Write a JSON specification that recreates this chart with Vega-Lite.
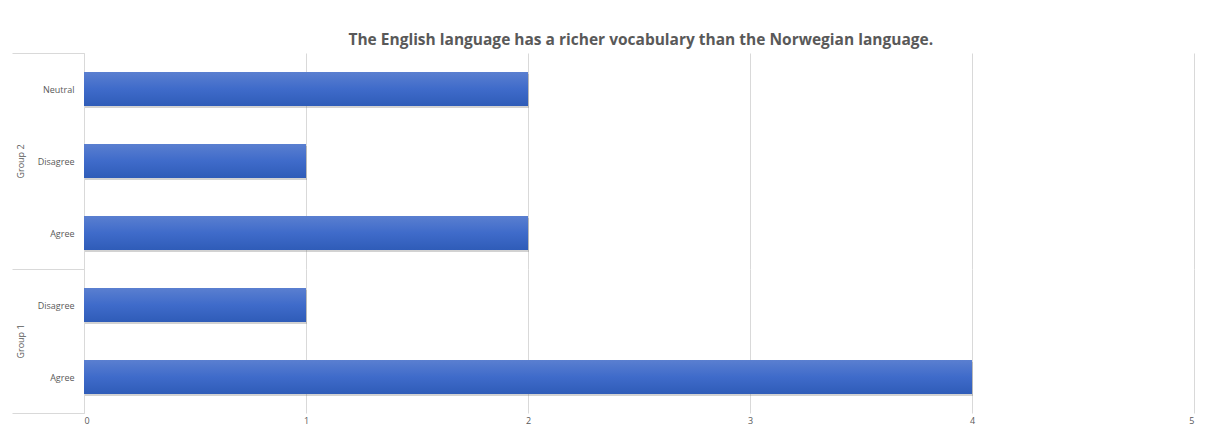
{
  "$schema": "https://vega.github.io/schema/vega-lite/v6.json",
  "padding": {"left": 11, "top": 32, "right": 5, "bottom": 5},
  "background": "white",
  "title": {
    "text": "The English language has a richer vocabulary than the Norwegian language.",
    "font": "Open Sans",
    "fontSize": 15.5,
    "fontWeight": "bold",
    "color": "#595959",
    "anchor": "middle",
    "offset": 1,
    "dx": 38
  },
  "data": {
    "values": [
      {"group": "Group 2", "response": "Neutral", "ord": 1, "count": 2},
      {"group": "Group 2", "response": "Disagree", "ord": 2, "count": 1},
      {"group": "Group 2", "response": "Agree", "ord": 3, "count": 2},
      {"group": "Group 1", "response": "Disagree", "ord": 4, "count": 1},
      {"group": "Group 1", "response": "Agree", "ord": 5, "count": 4}
    ]
  },
  "spacing": -4,
  "vconcat": [
    {
      "width": 1110,
      "height": 216,
      "transform": [{"filter": "datum.group == 'Group 2'"}],
      "encoding": {
        "x": {
          "field": "count",
          "type": "quantitative",
          "scale": {"domain": [0, 5]},
          "axis": {
            "title": null,
            "values": [0, 1, 2, 3, 4, 5],
            "labels": false,
            "ticks": false,
            "domain": false,
            "labelPadding": 0,
            "minExtent": 0,
            "maxExtent": 0,
            "gridColor": "#d9d9d9"
          }
        },
        "y": {
          "field": "response",
          "type": "nominal",
          "sort": {"field": "ord", "order": "ascending"},
          "scale": {"paddingInner": 0, "paddingOuter": 0},
          "axis": {
            "title": "Group 2",
            "titleFont": "Open Sans",
            "titleFontSize": 9,
            "titleFontWeight": "normal",
            "titleColor": "#595959",
            "titleAngle": -90,
            "titleBaseline": "middle",
            "titleAlign": "center",
            "titleX": -64,
            "titleY": 108,
            "labelFont": "Open Sans",
            "labelFontSize": 9,
            "labelColor": "#595959",
            "tickBand": "extent",
            "tickSize": 72,
            "tickColor": "#d9d9d9",
            "tickOpacity": {
              "condition": {"test": "datum.extra", "value": 1},
              "value": 0
            },
            "labelPadding": -62,
            "domainColor": "#d9d9d9"
          }
        }
      },
      "layer": [
        {
          "mark": {"type": "bar", "height": {"band": 0.47}, "color": "#7f7f7f", "opacity": 0.35, "yOffset": 2, "xOffset": 1}
        },
        {
          "mark": {
            "type": "bar",
            "height": {"band": 0.47},
            "color": {
              "gradient": "linear",
              "x1": 0, "y1": 0, "x2": 0, "y2": 1,
              "stops": [
                {"offset": 0, "color": "#5a7fd0"},
                {"offset": 0.5, "color": "#3f6bca"},
                {"offset": 1, "color": "#2f5cb8"}
              ]
            }
          }
        }
      ]
    },
    {
      "width": 1110,
      "height": 144,
      "transform": [{"filter": "datum.group == 'Group 1'"}],
      "encoding": {
        "x": {
          "field": "count",
          "type": "quantitative",
          "scale": {"domain": [0, 5]},
          "axis": {
            "title": null,
            "values": [0, 1, 2, 3, 4, 5],
            "format": "d",
            "labelFont": "Open Sans",
            "labelFontSize": 9,
            "labelColor": "#595959",
            "labelPadding": 3,
            "ticks": false,
            "domain": false,
            "gridColor": "#d9d9d9"
          }
        },
        "y": {
          "field": "response",
          "type": "nominal",
          "sort": {"field": "ord", "order": "ascending"},
          "scale": {"paddingInner": 0, "paddingOuter": 0},
          "axis": {
            "title": "Group 1",
            "titleFont": "Open Sans",
            "titleFontSize": 9,
            "titleFontWeight": "normal",
            "titleColor": "#595959",
            "titleAngle": -90,
            "titleBaseline": "middle",
            "titleAlign": "center",
            "titleX": -64,
            "titleY": 72,
            "labelFont": "Open Sans",
            "labelFontSize": 9,
            "labelColor": "#595959",
            "tickBand": "extent",
            "tickSize": 72,
            "tickColor": "#d9d9d9",
            "tickOpacity": {
              "condition": {"test": "datum.extra || datum.value == 'Agree'", "value": 1},
              "value": 0
            },
            "labelPadding": -62,
            "domainColor": "#d9d9d9"
          }
        }
      },
      "layer": [
        {
          "mark": {"type": "bar", "height": {"band": 0.47}, "color": "#7f7f7f", "opacity": 0.35, "yOffset": 2, "xOffset": 1}
        },
        {
          "mark": {
            "type": "bar",
            "height": {"band": 0.47},
            "color": {
              "gradient": "linear",
              "x1": 0, "y1": 0, "x2": 0, "y2": 1,
              "stops": [
                {"offset": 0, "color": "#5a7fd0"},
                {"offset": 0.5, "color": "#3f6bca"},
                {"offset": 1, "color": "#2f5cb8"}
              ]
            }
          }
        }
      ]
    }
  ],
  "config": {
    "view": {"stroke": null}
  }
}
